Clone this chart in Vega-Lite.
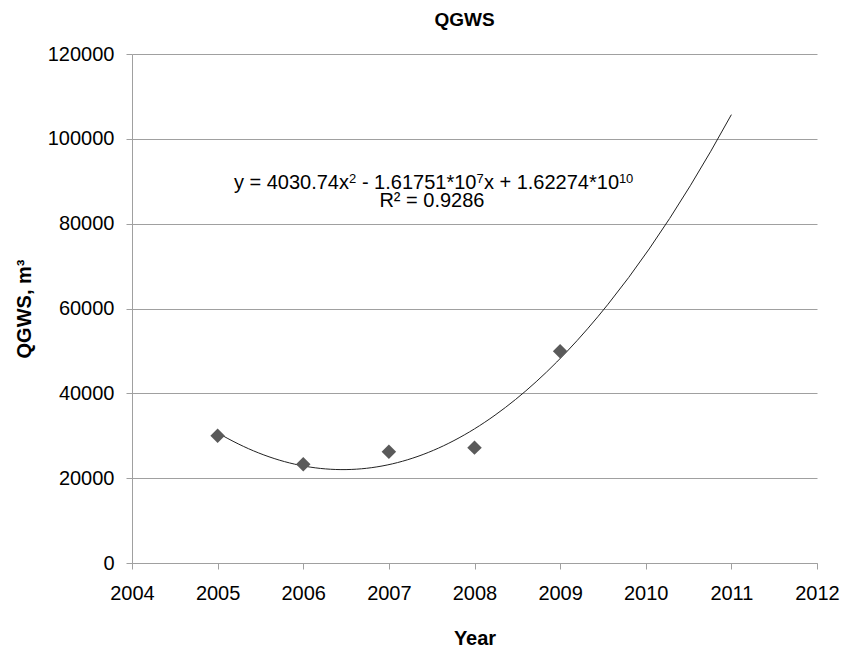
{
  "$schema": "https://vega.github.io/schema/vega-lite/v6.json",
  "autosize": "none",
  "width": 685,
  "height": 509,
  "padding": {"left": 132, "top": 54, "right": 26, "bottom": 85},
  "background": "white",
  "title": {
    "text": "QGWS",
    "font": "Liberation Sans",
    "fontSize": 19,
    "fontWeight": "bold",
    "color": "black",
    "offset": 14,
    "dx": -10
  },
  "config": {
    "view": {"stroke": null},
    "axis": {
      "labelFont": "Liberation Sans",
      "labelFontSize": 20,
      "labelColor": "black",
      "titleFont": "Liberation Sans",
      "titleFontSize": 20,
      "titleFontWeight": "bold",
      "titleColor": "black",
      "domainColor": "#a0a0a0",
      "tickColor": "#a0a0a0",
      "gridColor": "#a0a0a0",
      "tickSize": 6
    },
    "text": {"font": "Liberation Sans", "color": "black", "baseline": "alphabetic", "align": "left"}
  },
  "datasets": {
    "obs": [
      {"Year": 2005, "QGWS": 30000},
      {"Year": 2006, "QGWS": 23300},
      {"Year": 2007, "QGWS": 26200},
      {"Year": 2008, "QGWS": 27200},
      {"Year": 2009, "QGWS": 49900}
    ],
    "note": [
      {"part": "a", "label": "y = 4030.74x", "Year": 2005.19, "QGWS": 88290},
      {"part": "b", "label": "2", "Year": 2005.19, "QGWS": 88290},
      {"part": "c", "label": "- 1.61751*10", "Year": 2005.19, "QGWS": 88290},
      {"part": "d", "label": "7", "Year": 2005.19, "QGWS": 88290},
      {"part": "e", "label": "x + 1.62274*10", "Year": 2005.19, "QGWS": 88290},
      {"part": "f", "label": "10", "Year": 2005.19, "QGWS": 88290},
      {"part": "r", "label": "R² = 0.9286", "Year": 2007.503, "QGWS": 84047}
    ]
  },
  "layer": [
    {
      "data": {"name": "obs"},
      "transform": [
        {"regression": "QGWS", "on": "Year", "method": "poly", "order": 2, "extent": [2005, 2011]}
      ],
      "mark": {"type": "line", "color": "#222222", "strokeWidth": 1},
      "encoding": {
        "x": {
          "field": "Year",
          "type": "quantitative",
          "scale": {"domain": [2004, 2012], "nice": false, "zero": false},
          "axis": {
            "values": [2004, 2005, 2006, 2007, 2008, 2009, 2010, 2011, 2012],
            "format": "d",
            "grid": false,
            "labelFlush": false,
            "labelPadding": 14,
            "title": "Year",
            "titlePadding": 25
          }
        },
        "y": {
          "field": "QGWS",
          "type": "quantitative",
          "scale": {"domain": [0, 120000], "nice": false},
          "axis": {
            "values": [0, 20000, 40000, 60000, 80000, 100000, 120000],
            "format": "d",
            "grid": true,
            "labelPadding": 12,
            "title": "QGWS, m³",
            "titlePadding": 13
          }
        }
      }
    },
    {
      "data": {"name": "obs"},
      "mark": {"type": "point", "shape": "diamond", "filled": true, "size": 210, "color": "#5a5a5a", "opacity": 1},
      "encoding": {
        "x": {"field": "Year", "type": "quantitative"},
        "y": {"field": "QGWS", "type": "quantitative"}
      }
    },
    {
      "data": {"name": "note"},
      "transform": [{"filter": "datum.part == 'a'"}],
      "mark": {"type": "text", "fontSize": 20, "dx": 0},
      "encoding": {
        "x": {"field": "Year", "type": "quantitative"},
        "y": {"field": "QGWS", "type": "quantitative"},
        "text": {"field": "label", "type": "nominal"}
      }
    },
    {
      "data": {"name": "note"},
      "transform": [{"filter": "datum.part == 'b'"}],
      "mark": {"type": "text", "fontSize": 13, "dx": 115, "dy": -6},
      "encoding": {
        "x": {"field": "Year", "type": "quantitative"},
        "y": {"field": "QGWS", "type": "quantitative"},
        "text": {"field": "label", "type": "nominal"}
      }
    },
    {
      "data": {"name": "note"},
      "transform": [{"filter": "datum.part == 'c'"}],
      "mark": {"type": "text", "fontSize": 20, "dx": 128},
      "encoding": {
        "x": {"field": "Year", "type": "quantitative"},
        "y": {"field": "QGWS", "type": "quantitative"},
        "text": {"field": "label", "type": "nominal"}
      }
    },
    {
      "data": {"name": "note"},
      "transform": [{"filter": "datum.part == 'd'"}],
      "mark": {"type": "text", "fontSize": 13, "dx": 242.5, "dy": -6},
      "encoding": {
        "x": {"field": "Year", "type": "quantitative"},
        "y": {"field": "QGWS", "type": "quantitative"},
        "text": {"field": "label", "type": "nominal"}
      }
    },
    {
      "data": {"name": "note"},
      "transform": [{"filter": "datum.part == 'e'"}],
      "mark": {"type": "text", "fontSize": 20, "dx": 250},
      "encoding": {
        "x": {"field": "Year", "type": "quantitative"},
        "y": {"field": "QGWS", "type": "quantitative"},
        "text": {"field": "label", "type": "nominal"}
      }
    },
    {
      "data": {"name": "note"},
      "transform": [{"filter": "datum.part == 'f'"}],
      "mark": {"type": "text", "fontSize": 13, "dx": 385, "dy": -6},
      "encoding": {
        "x": {"field": "Year", "type": "quantitative"},
        "y": {"field": "QGWS", "type": "quantitative"},
        "text": {"field": "label", "type": "nominal"}
      }
    },
    {
      "data": {"name": "note"},
      "transform": [{"filter": "datum.part == 'r'"}],
      "mark": {"type": "text", "fontSize": 20, "align": "center"},
      "encoding": {
        "x": {"field": "Year", "type": "quantitative"},
        "y": {"field": "QGWS", "type": "quantitative"},
        "text": {"field": "label", "type": "nominal"}
      }
    }
  ]
}
